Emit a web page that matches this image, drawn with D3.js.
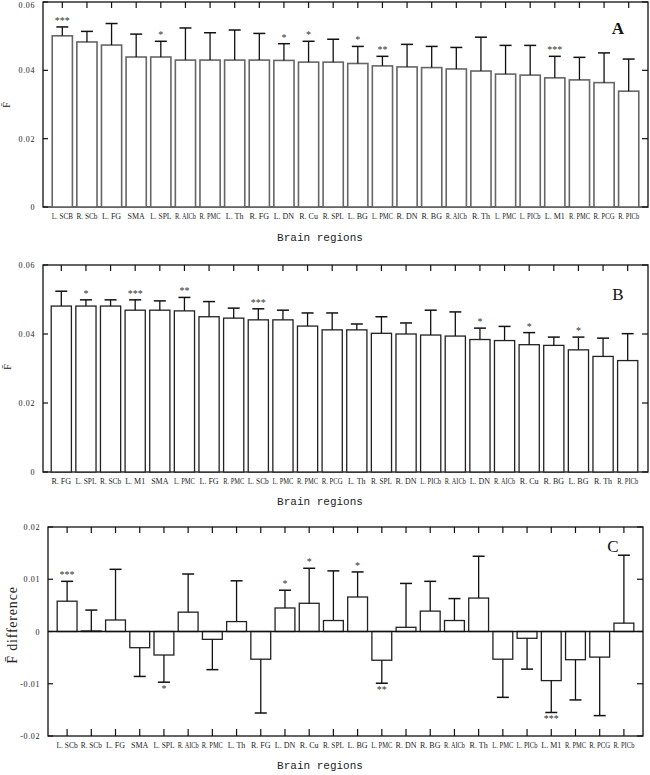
<!DOCTYPE html>
<html><head><meta charset="utf-8">
<script src="https://cdn.jsdelivr.net/npm/d3@7"></script>
<style>body{margin:0;background:#fff}svg{display:block}</style>
</head><body>
<script>
const catsA = ["L. SCB","R. SCb","L. FG","SMA","L. SPL","R. AICb","R. PMC","L. Th","R. FG","L. DN","R. Cu","R. SPL","L. BG","L. PMC","R. DN","R. BG","R. AICb","R. Th","L. PMC","L. PICb","L. M1","R. PMC","R. PCG","R. PICb"];
const valsA = [0.0501,0.0483,0.0474,0.0439,0.0439,0.0430,0.0430,0.0430,0.0430,0.0429,0.0424,0.0424,0.0420,0.0413,0.0410,0.0408,0.0404,0.0398,0.0389,0.0386,0.0378,0.0372,0.0364,0.0339];
const errA = [0.0026,0.0031,0.0063,0.0067,0.0046,0.0094,0.0080,0.0088,0.0078,0.0049,0.0061,0.0067,0.0050,0.0028,0.0066,0.0062,0.0063,0.0099,0.0084,0.0087,0.0063,0.0066,0.0087,0.0094];
const sigA = ["***","","","","*","","","","","*","*","","*","**","","","","","","","***","","",""];

const catsB = ["R. FG","L. SPL","R. SCb","L. M1","SMA","L. PMC","L. FG","R. PMC","L. SCb","L. PMC","R. PMC","R. PCG","L. Th","R. SPL","R. DN","L. PICb","R. AICb","L. DN","R. AICb","R. Cu","R. BG","L. BG","R. Th","R. PICb"];
const valsB = [0.0481,0.0481,0.0481,0.0469,0.0469,0.0467,0.0450,0.0446,0.0441,0.0441,0.0423,0.0412,0.0412,0.0402,0.0400,0.0397,0.0394,0.0384,0.0381,0.0369,0.0367,0.0354,0.0335,0.0323];
const errB = [0.0043,0.0018,0.0018,0.0030,0.0027,0.0039,0.0044,0.0029,0.0032,0.0028,0.0038,0.0049,0.0017,0.0048,0.0032,0.0072,0.0070,0.0033,0.0041,0.0035,0.0024,0.0037,0.0053,0.0078];
const sigB = ["","*","","***","","**","","","***","","","","","","","","","*","","*","","*","",""];

const catsC = ["L. SCb","R. SCb","L. FG","SMA","L. SPL","R. AICb","R. PMC","L. Th","R. FG","L. DN","R. Cu","R. SPL","L. BG","L. PMC","R. DN","R. BG","R. AICb","R. Th","L. PMC","L. PICb","L. M1","R. PMC","R. PCG","R. PICb"];
const valsC = [0.0058,0.0001,0.0022,-0.0031,-0.0045,0.0037,-0.0015,0.0019,-0.0053,0.0045,0.0054,0.0021,0.0066,-0.0055,0.0008,0.0039,0.0021,0.0064,-0.0053,-0.0013,-0.0094,-0.0054,-0.0049,0.0016];
const errC = [0.0038,0.0040,0.0097,0.0055,0.0052,0.0073,0.0058,0.0078,0.0103,0.0034,0.0067,0.0095,0.0048,0.0044,0.0084,0.0057,0.0042,0.0080,0.0073,0.0059,0.0061,0.0077,0.0112,0.0130];
const sigC = ["***","","","","*","","","","","*","*","","*","**","","","","","","","***","","",""];

const ticksAB = [0,0.02,0.04,0.06];
const ticksC = [-0.02,-0.01,0,0.01,0.02];
const fmtTick = d => d===0 ? "0" : d3.format(".2f")(d).replace("−","-");

const svg = d3.select("body").append("svg").attr("width",650).attr("height",775);
const serif = "'Liberation Serif','DejaVu Serif',serif";

function panel(o){
  const g = svg.append("g");
  const y = d3.scaleLinear().domain(o.domain).range([o.bottom,o.top]);
  const x = d3.scaleBand().domain(d3.range(o.cats.length)).range([o.bx0,o.bx1]).paddingInner(0.18).paddingOuter(0.09);
  const bw = x.bandwidth();
  g.append("rect").attr("x",o.left).attr("y",o.top).attr("width",o.right-o.left).attr("height",o.bottom-o.top)
    .attr("fill","none").attr("stroke","#111").attr("stroke-width",1.3);
  d3.range(o.cats.length).forEach(i=>{
    const cx = x(i)+bw/2;
    g.append("line").attr("x1",cx).attr("x2",cx).attr("y1",o.top).attr("y2",o.top+6).attr("stroke","#111").attr("stroke-width",1.2);
    g.append("line").attr("x1",cx).attr("x2",cx).attr("y1",o.bottom).attr("y2",o.bottom-7).attr("stroke","#111").attr("stroke-width",1.2);
  });
  o.ticks.forEach(t=>{
    const yy = y(t);
    g.append("line").attr("x1",o.left).attr("x2",o.left+5).attr("y1",yy).attr("y2",yy).attr("stroke","#111").attr("stroke-width",1.2);
    g.append("line").attr("x1",o.right).attr("x2",o.right-6).attr("y1",yy).attr("y2",yy).attr("stroke","#111").attr("stroke-width",1.2);
    g.append("text").attr("x",o.left-8).attr("y",Math.max(yy+3,8)).attr("text-anchor","end").attr("font-family",serif)
      .attr("font-size",8).attr("letter-spacing",0.6).attr("fill","#222").text(fmtTick(t));
  });
  const y0 = y(0);
  o.vals.forEach((v,i)=>{
    const cx = x(i)+bw/2;
    const yv = y(v);
    g.append("rect").attr("x",x(i)).attr("y",Math.min(yv,y0)).attr("width",bw).attr("height",Math.abs(y0-yv))
      .attr("fill","#fff").attr("stroke",o.barStroke).attr("stroke-width",o.barSW);
    const sgn = v>=0 ? 1 : -1;
    const ye = y(v + sgn*o.errs[i]);
    g.append("line").attr("x1",cx).attr("x2",cx).attr("y1",yv).attr("y2",ye).attr("stroke","#111").attr("stroke-width",1.3);
    g.append("line").attr("x1",cx-6).attr("x2",cx+6).attr("y1",ye).attr("y2",ye).attr("stroke","#111").attr("stroke-width",1.5);
    if (o.sig[i]) {
      g.append("text").attr("x",cx).attr("y", sgn>0 ? ye-3 : ye+10).attr("text-anchor","middle")
        .attr("font-family",serif).attr("font-size",10).attr("fill","#333").text(o.sig[i]);
    }
  });
  if (o.domain[0] < 0) {
    g.append("line").attr("x1",o.left).attr("x2",o.right).attr("y1",y0).attr("y2",y0).attr("stroke","#111").attr("stroke-width",1.3);
  }
  o.cats.forEach((c,i)=>{
    const t = g.append("text").attr("x",x(i)+bw/2).attr("y",o.bottom+12).attr("text-anchor","middle")
      .attr("font-family",serif).attr("font-size",8).attr("fill","#222").text(c);
    const len = t.node().getComputedTextLength();
    if (len > 21) t.attr("textLength",21).attr("lengthAdjust","spacingAndGlyphs");
  });
  g.append("text").attr("x",o.right-30).attr("y",o.letterY).attr("text-anchor","middle")
    .attr("font-family",serif).attr("font-size",17).attr("font-weight",o.letterBold?"bold":"normal").attr("fill","#111").text(o.letter);
  g.append("text").attr("transform",`translate(${o.ylx},${o.yly}) rotate(-90)`).attr("text-anchor","middle")
    .attr("font-family",serif).attr("font-size",o.ylSize).attr("letter-spacing",o.ylSp||0).attr("fill","#222").text(o.ylabel);
  g.append("text").attr("x",320).attr("y",o.bottom+o.titleDy).attr("text-anchor","middle")
    .attr("font-family","'Liberation Mono','DejaVu Sans Mono',monospace").attr("font-size",11).attr("fill","#222").text("Brain regions");
}

panel({cats:catsA, vals:valsA, errs:errA, sig:sigA, domain:[0,0.06], ticks:ticksAB,
  left:43, right:648, top:2, bottom:207, bx0:50, bx1:641, barStroke:"#666", barSW:1.6,
  letter:"A", letterY:34, letterBold:true, ylabel:"F̄", ylx:10, yly:105, ylSize:10, titleDy:34});
panel({cats:catsB, vals:valsB, errs:errB, sig:sigB, domain:[0,0.06], ticks:ticksAB,
  left:43, right:648, top:265, bottom:472, bx0:49, bx1:640, barStroke:"#222", barSW:1.3,
  letter:"B", letterY:300, letterBold:false, ylabel:"F̄", ylx:11, yly:367, ylSize:10, titleDy:33});
panel({cats:catsC, vals:valsC, errs:errC, sig:sigC, domain:[-0.02,0.02], ticks:ticksC,
  left:48, right:643, top:527, bottom:736, bx0:55, bx1:636, barStroke:"#222", barSW:1.3,
  letter:"C", letterY:552, letterBold:false, ylabel:"F̄ difference", ylx:17, yly:625, ylSize:14, ylSp:0.8, titleDy:33});
</script>
</body></html>
